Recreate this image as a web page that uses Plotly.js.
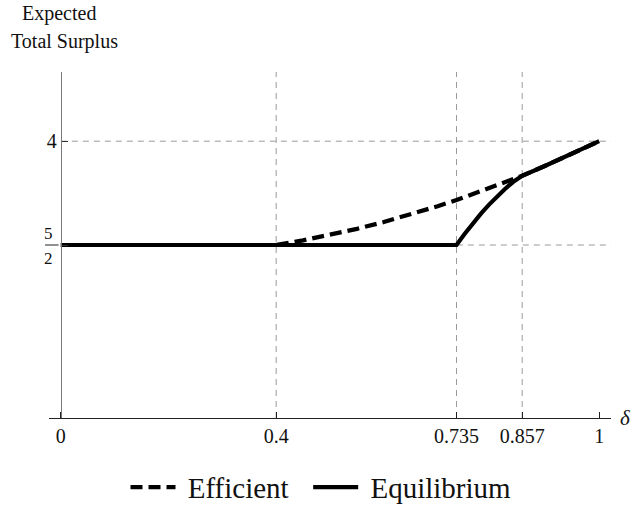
<!DOCTYPE html>
<html>
<head>
<meta charset="utf-8">
<script src="https://cdn.plot.ly/plotly-3.0.1.min.js"></script>
<style>html,body{margin:0;padding:0;background:#fff;}#chart{width:636px;height:507px;}</style>
</head>
<body>
<div id="chart"></div>
<script>
// ---- data ----
const xTickVals = [0, 0.4, 0.735, 0.857, 1];
const xTickLabels = ['0', '0.4', '0.735', '0.857', '1'];
const xGridVals = [0.4, 0.735, 0.857];
const yGridVals = [2.5, 4];
const yTickLabels = ['', '4'];

const efficientX = [0, 0.4, 0.45, 0.5, 0.55, 0.6, 0.65, 0.7, 0.735, 0.8, 0.857, 0.9, 0.95, 1];
const efficientY = [2.5, 2.5, 2.567, 2.645, 2.733, 2.832, 2.941, 3.061, 3.15, 3.332, 3.5, 3.645, 3.817, 4.0];

const equilibriumX = [0, 0.4, 0.735, 0.75, 0.765, 0.78, 0.795, 0.81, 0.825, 0.84, 0.857, 0.9, 0.95, 1];
const equilibriumY = [2.5, 2.5, 2.5, 2.66, 2.81, 2.95, 3.08, 3.2, 3.31, 3.41, 3.5, 3.645, 3.817, 4.0];

const seriesNames = ['\u00a0Efficient\u00a0\u00a0', '\u00a0Equilibrium'];
const xRange = [-0.022, 1.022];
const yRange = [0, 5];
// ---- end data ----

const serif = 'Liberation Serif';
const y0pos = (0 - xRange[0]) / (xRange[1] - xRange[0]);

const traces = [
  {x: efficientX, y: efficientY, type: 'scatter', mode: 'lines', name: seriesNames[0],
   line: {color: '#000', width: 4.2, dash: '12px,6px'}, hoverinfo: 'skip'},
  {x: equilibriumX, y: equilibriumY, type: 'scatter', mode: 'lines', name: seriesNames[1],
   line: {color: '#000', width: 4.2}, hoverinfo: 'skip'}
];

const shapes = [];
xGridVals.forEach(v => shapes.push({type: 'line', layer: 'below', xref: 'x', yref: 'paper',
  x0: v, x1: v, y0: 0, y1: 1, line: {color: '#9a9a9a', width: 1, dash: '6px,5px'}}));
yGridVals.forEach(v => shapes.push({type: 'line', layer: 'below', xref: 'paper', yref: 'y',
  x0: y0pos, x1: 1, y0: v, y1: v, line: {color: '#9a9a9a', width: 1, dash: '6px,5px'}}));
// fraction bar for 5/2 label
shapes.push({type: 'line', xref: 'paper', yref: 'y', x0: -0.007, x1: y0pos - 0.004,
  y0: yGridVals[0], y1: yGridVals[0], line: {color: '#222', width: 1}});

const annotations = [
  {text: '5', xref: 'x', yref: 'y', x: 0, y: yGridVals[0], xanchor: 'right', yanchor: 'middle',
   xshift: -6, yshift: 12, showarrow: false, font: {family: serif, size: 17, color: '#111'}},
  {text: '2', xref: 'x', yref: 'y', x: 0, y: yGridVals[0], xanchor: 'right', yanchor: 'middle',
   xshift: -6, yshift: -13, showarrow: false, font: {family: serif, size: 17, color: '#111'}},
  {text: 'Expected', xref: 'paper', yref: 'paper', x: 0.018, y: 1.168, xanchor: 'center', yanchor: 'middle',
   showarrow: false, font: {family: serif, size: 20, color: '#111'}},
  {text: 'Total Surplus', xref: 'paper', yref: 'paper', x: 0.028, y: 1.087, xanchor: 'center', yanchor: 'middle',
   showarrow: false, font: {family: serif, size: 20, color: '#111'}},
  {text: '<i>δ</i>', xref: 'paper', yref: 'paper', x: 1.025, y: 0, xanchor: 'center', yanchor: 'middle',
   showarrow: false, font: {family: serif, size: 21, color: '#111'}}
];

const layout = {
  width: 636, height: 507,
  margin: {l: 49, r: 25, t: 72, b: 89, autoexpand: false},
  paper_bgcolor: '#fff', plot_bgcolor: '#fff',
  font: {family: serif, color: '#111'},
  showlegend: true,
  legend: {orientation: 'h', x: 0.484, xanchor: 'center', y: -0.2, yanchor: 'middle',
           font: {family: serif, size: 29, color: '#111'}, itemwidth: 45, bgcolor: 'rgba(0,0,0,0)'},
  xaxis: {range: xRange, showline: true, linecolor: '#222', linewidth: 1.2,
          ticks: 'inside', ticklen: 6, tickcolor: '#222', tickwidth: 1,
          tickmode: 'array', tickvals: xTickVals, ticktext: xTickLabels,
          tickfont: {family: serif, size: 20, color: '#111'},
          showgrid: false, zeroline: false, fixedrange: true},
  yaxis: {range: yRange, anchor: 'free', position: y0pos, showline: true, linecolor: '#777', linewidth: 1.2,
          ticks: 'inside', ticklen: 6, tickcolor: '#333', tickwidth: 1,
          tickmode: 'array', tickvals: yGridVals, ticktext: yTickLabels,
          tickfont: {family: serif, size: 20, color: '#111'},
          showgrid: false, zeroline: false, fixedrange: true},
  shapes: shapes,
  annotations: annotations
};

Plotly.newPlot('chart', traces, layout, {displayModeBar: false, staticPlot: true});
</script>
</body>
</html>
